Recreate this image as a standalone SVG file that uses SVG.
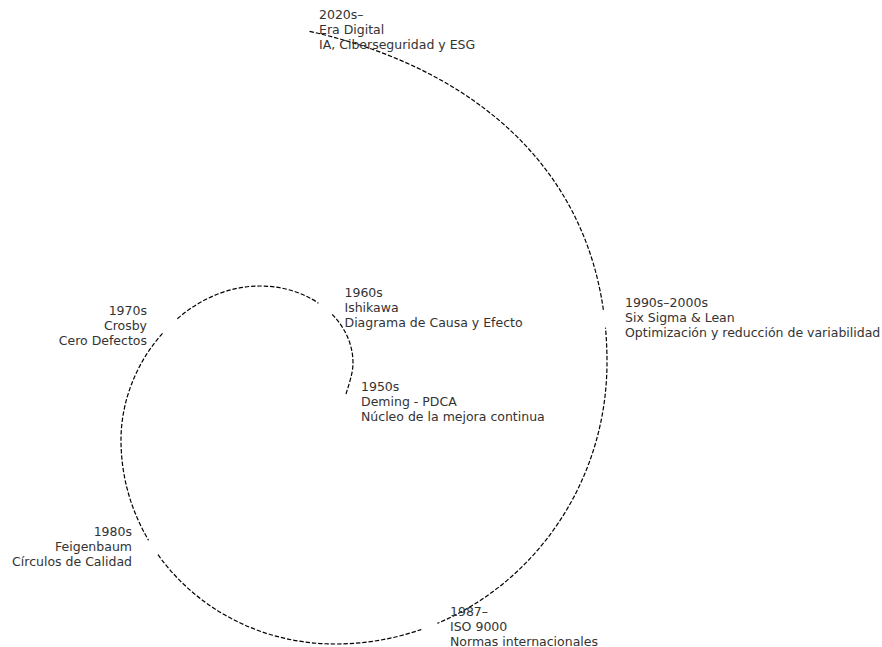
<svg xmlns="http://www.w3.org/2000/svg" width="882" height="647" viewBox="0 0 882 647">
<style>
.bg{fill:#ffffff}
.sp{fill:none;stroke:#000;stroke-width:1.2;stroke-dasharray:4.4 1.9}
.lbl{font-family:"DejaVu Sans",sans-serif;font-size:12.5px;fill:#333333}
.r{text-anchor:end}
.cut{fill:#000}
</style>
<defs>
<mask id="gaps" maskUnits="userSpaceOnUse" x="0" y="0" width="882" height="647">
<rect x="0" y="0" width="882" height="647" fill="#fff"/>
<circle class="cut" cx="325.5" cy="308.5" r="9"/>
<circle class="cut" cx="169.5" cy="325" r="9.5"/>
<circle class="cut" cx="153.2" cy="547.3" r="8.5"/>
<circle class="cut" cx="429.5" cy="626.7" r="8.7"/>
<circle class="cut" cx="604.7" cy="318.8" r="9"/>
</mask>
</defs>
<rect class="bg" x="0" y="0" width="882" height="647"/>
<g id="connectors" mask="url(#gaps)">
<path class="sp" d="M346,394 C349,384 353,373 353,363 C353,320.5 311.4,286 260,286 C186,286 121,360 121,440 C121,552.7 216.8,644 335,644 C485.2,644 607,517.7 607,362 C607,176 477,68 308,31"/>
</g>
<g id="n1950">
<text class="lbl" x="361" y="390.5">1950s</text>
<text class="lbl" x="361" y="405.5">Deming - PDCA</text>
<text class="lbl" x="361" y="420.5">Núcleo de la mejora continua</text>
</g>
<g id="n1960">
<text class="lbl" x="344.5" y="296.5">1960s</text>
<text class="lbl" x="344.5" y="311.5">Ishikawa</text>
<text class="lbl" x="344.5" y="326.5">Diagrama de Causa y Efecto</text>
</g>
<g id="n1970">
<text class="lbl r" x="147" y="314.5">1970s</text>
<text class="lbl r" x="147" y="329.5">Crosby</text>
<text class="lbl r" x="147" y="344.5">Cero Defectos</text>
</g>
<g id="n1980">
<text class="lbl r" x="132" y="535.5">1980s</text>
<text class="lbl r" x="132" y="550.5">Feigenbaum</text>
<text class="lbl r" x="132" y="565.5">Círculos de Calidad</text>
</g>
<g id="n1987">
<text class="lbl" x="450" y="615.5">1987–</text>
<text class="lbl" x="450" y="630.5">ISO 9000</text>
<text class="lbl" x="450" y="645.5">Normas internacionales</text>
</g>
<g id="n1990">
<text class="lbl" x="625" y="306.5">1990s–2000s</text>
<text class="lbl" x="625" y="321.5">Six Sigma &amp; Lean</text>
<text class="lbl" x="625" y="336.5">Optimización y reducción de variabilidad</text>
</g>
<g id="n2020">
<text class="lbl" x="319" y="18.5">2020s–</text>
<text class="lbl" x="319" y="33.5">Era Digital</text>
<text class="lbl" x="319" y="48.5">IA, Ciberseguridad y ESG</text>
</g>
</svg>
